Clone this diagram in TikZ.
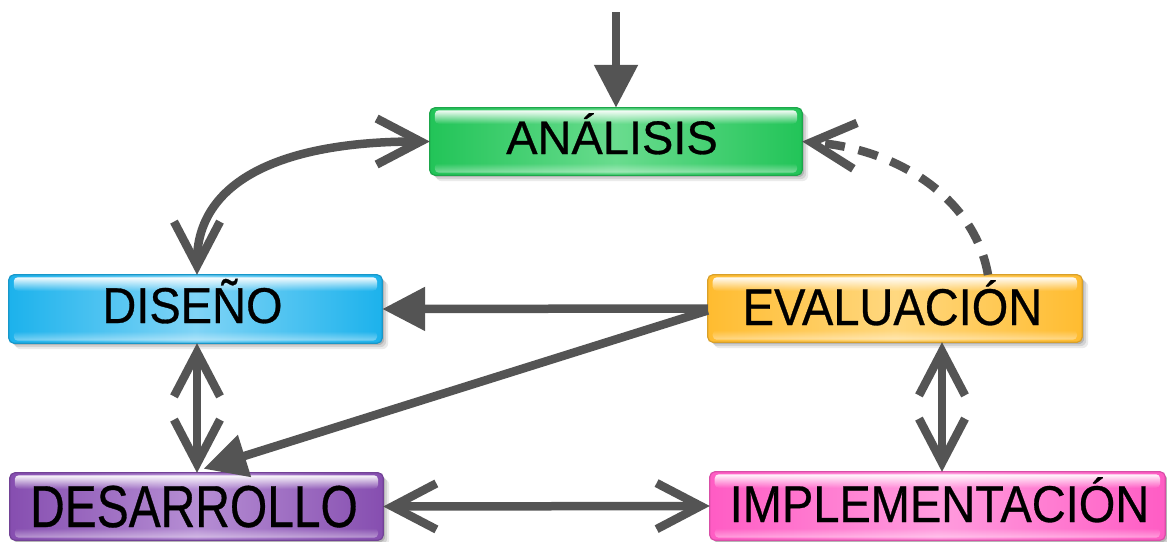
\documentclass[tikz,border=0pt]{standalone}
\usepackage{fontspec}
\setmainfont{Liberation Sans}
\newfontfamily\labelfont[FakeBold=0.6]{Liberation Sans}
\usetikzlibrary{arrows.meta,fadings}

% line and box colours (D = edge tone, L = centre tone)
\definecolor{lineg}{RGB}{84,84,84}
\definecolor{gD}{RGB}{34,196,88}
\definecolor{gL}{RGB}{105,220,142}
\definecolor{bD}{RGB}{28,178,236}
\definecolor{bL}{RGB}{128,212,246}
\definecolor{yD}{RGB}{255,188,48}
\definecolor{yL}{RGB}{255,216,128}
\definecolor{pD}{RGB}{134,78,176}
\definecolor{pL}{RGB}{182,142,212}
\definecolor{kD}{RGB}{255,92,196}
\definecolor{kL}{RGB}{255,156,222}

\tikzfading[name=glosstop, top color=transparent!5, bottom color=transparent!100]
\tikzfading[name=glossbot, top color=transparent!100, bottom color=transparent!30]

\tikzset{
  boxframe/.style={rectangle, inner sep=0pt, draw=none},
  lbl/.style={inner sep=0pt, text=black, font=\labelfont\fontsize{47}{50}\selectfont},
  conn/.style={draw=lineg, line width=8.5pt},
  barbtip/.tip={Straight Barb[length=44pt, width=46pt]},
  tritip/.tip={Triangle[length=43pt, width=42pt]},
}

% glossy rounded box: name, centre x, centre y, width, height, colour stem
\newcommand\glossbox[6]{%
  \node[boxframe, minimum width=#4pt, minimum height=#5pt] (#1) at (#2,#3) {};
  \foreach \s/\o in {6/0.08, 4/0.10, 2/0.14}{%
    \fill[black, opacity=\o, rounded corners=6pt]
      ([xshift=\s pt, yshift=-\s pt]#1.north west) rectangle ([xshift=\s pt, yshift=-\s pt]#1.south east);}
  \fill[rounded corners=5pt, left color=#6D, right color=#6D, middle color=#6L]
    (#1.north west) rectangle (#1.south east);
  \draw[#6D!85!black, line width=1.2pt, rounded corners=5pt]
    (#1.north west) rectangle (#1.south east);
  \fill[white, path fading=glosstop, rounded corners=4pt]
    ([xshift=5pt, yshift=-2.5pt]#1.north west) rectangle ([xshift=-5pt, yshift=-16pt]#1.north east);
  \fill[white, opacity=0.6, path fading=glossbot, rounded corners=4pt]
    ([xshift=5pt, yshift=12pt]#1.south west) rectangle ([xshift=-5pt, yshift=2.5pt]#1.south east);
}

\begin{document}
\begin{tikzpicture}[x=1pt, y=-1pt]
  \useasboundingbox (0,0) rectangle (1167,541);

  % boxes
  \glossbox{analisis}{616}{141.5}{372}{67}{g}
  \glossbox{diseno}{195.5}{309}{373}{68}{b}
  \glossbox{evaluacion}{895}{308.5}{374}{67}{y}
  \glossbox{desarrollo}{196.5}{506.5}{373}{67}{p}
  \glossbox{implementacion}{937.5}{506}{455}{68}{k}

  % labels
  \node[lbl, anchor=base] (analisis-t) at (612,154) {ANÁLISIS};
  \node[lbl, anchor=base] (diseno-t) at (192.5,323) {\scalebox{1}[1.07]{DISEÑO}};
  \node[lbl, anchor=base] (evaluacion-t) at (892.5,325) {\scalebox{1}[1.1]{EVALUACIÓN}};
  \node[lbl, anchor=base] (desarrollo-t) at (194,527) {\scalebox{1.02}[1.26]{DESARROLLO}};
  \node[lbl, anchor=base] (implementacion-t) at (939.5,522) {\scalebox{1}[1.1]{IMPLEMENTACIÓN}};

  % connectors
  \coordinate (entry) at (616,12);
  \draw[conn, -tritip] (entry) -- (analisis.north);

  \draw[conn, barbtip-barbtip] ([xshift=1.5pt]diseno.north)
    .. controls +(0,-93) and +(-150,0) .. (analisis.west);

  \draw[conn, -tritip] (evaluacion.west) -- (diseno.east);
  \draw[conn, -tritip] ([yshift=-2pt]evaluacion.west) -- ([xshift=7pt, yshift=4pt]desarrollo.north);

  \draw[conn, barbtip-barbtip] ([xshift=1.5pt]diseno.south) -- ([xshift=0.5pt]desarrollo.north);

  \draw[conn, barbtip-barbtip] ([xshift=47pt]evaluacion.south)
    -- ([xshift=47pt]evaluacion.south |- implementacion.north);

  \draw[conn, barbtip-barbtip] (desarrollo.east) -- (implementacion.west);

  \draw[conn, dash pattern=on 20pt off 14pt, -barbtip] ([xshift=93pt]evaluacion.north)
    .. controls +(-13,-75) and +(98,8) .. (analisis.east);
\end{tikzpicture}
\end{document}
